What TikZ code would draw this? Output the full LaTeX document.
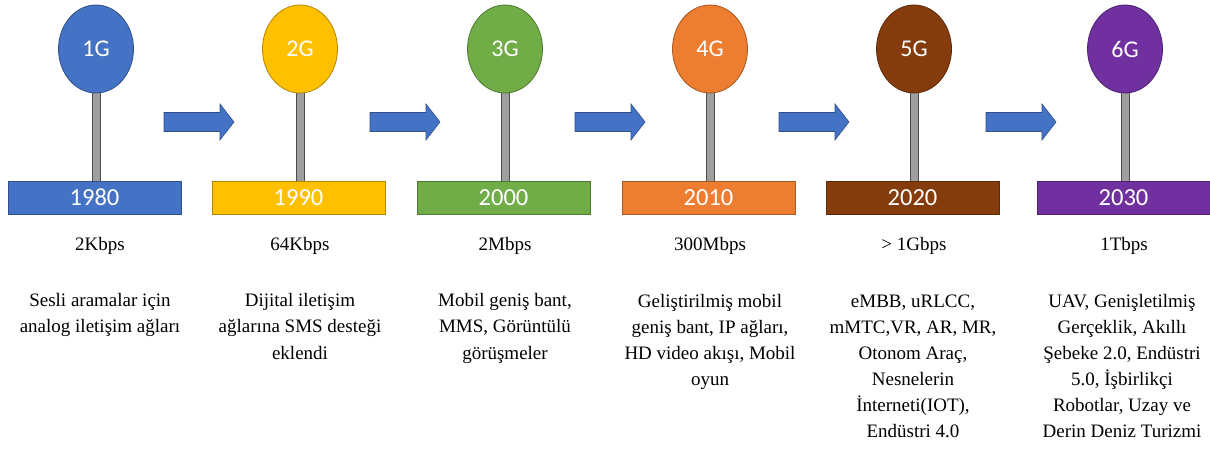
\documentclass[tikz,border=0pt]{standalone}
\usepackage{fontspec}
\usetikzlibrary{shapes.geometric}
\setmainfont{Liberation Serif}
\newfontfamily\calib{Carlito}
\newfontfamily\tnr{Liberation Serif}
\begin{document}
\begin{tikzpicture}[x=1pt,y=-1pt,
  gen/.style={ellipse,minimum width=75pt,minimum height=88pt,inner sep=0pt,draw=#1!70!black,fill=#1,line width=0.8pt,text=white,font=\calib\fontsize{24}{26}\selectfont},
  yearbox/.style={rectangle,minimum width=173pt,minimum height=33pt,inner sep=0pt,draw=#1!70!black,fill=#1,line width=0.8pt,text=white,font=\calib\fontsize{24.5}{27}\selectfont},
  speed/.style={anchor=base,font=\tnr\fontsize{19}{26}\selectfont},
  desc/.style={anchor=base,align=center,font=\tnr\fontsize{19}{26}\selectfont},
  stem/.style={fill=gray!75,draw=gray!60!black,line width=0.6pt},
  arr/.style={fill=c1,draw=c1!70!black,line width=0.6pt}]
\definecolor{c1}{HTML}{4472C4}
\definecolor{c2}{HTML}{FFC000}
\definecolor{c3}{HTML}{70AD47}
\definecolor{c4}{HTML}{ED7D31}
\definecolor{c5}{HTML}{843C0C}
\definecolor{c6}{HTML}{7030A0}
\useasboundingbox (0,0) rectangle (1210,454);
% stems
\foreach \cx in {96,300,505,710,914,1125}{
  \draw[stem] (\cx-4,92) rectangle (\cx+4,182);
}
\foreach \cx/\c/\g/\y [count=\i] in {96/c1/1G/1980,300/c2/2G/1990,505/c3/3G/2000,710/c4/4G/2010,914/c5/5G/2020,1125/c6/6G/2030}{
  \node[gen=\c] (g\i) at (\cx,49) {\g};
  \node[yearbox=\c] (y\i) at (\cx-1.5,197.5) {\y};
}
% arrows
\foreach \x in {164,370,575,779,986}{
  \draw[arr] (\x,112.5) -- (\x+56,112.5) -- (\x+56,104) -- (\x+70,122) -- (\x+56,140) -- (\x+56,131.5) -- (\x,131.5) -- cycle;
}
\node[speed] (s1) at (100,251) {2Kbps};
\node[speed] (s2) at (300,251) {64Kbps};
\node[speed] (s3) at (505,251) {2Mbps};
\node[speed] (s4) at (710,251) {300Mbps};
\node[speed] (s5) at (914,251) {> 1Gbps};
\node[speed] (s6) at (1124,251) {1Tbps};
\node[desc] (d1) at (100,333) {Sesli aramalar için\\analog iletişim ağları};
\node[desc] (d2) at (300,359) {Dijital iletişim\\ağlarına SMS desteği\\eklendi};
\node[desc] (d3) at (505,359) {Mobil geniş bant,\\MMS, Görüntülü\\görüşmeler};
\node[desc] (d4) at (710,385) {Geliştirilmiş mobil\\geniş bant, IP ağları,\\HD video akışı, Mobil\\oyun};
\node[desc] (d5) at (913,437) {eMBB, uRLCC,\\mMTC,VR, AR, MR,\\Otonom Araç,\\Nesnelerin\\İnterneti(IOT),\\Endüstri 4.0};
\node[desc] (d6) at (1122,437) {UAV, Genişletilmiş\\Gerçeklik, Akıllı\\Şebeke 2.0, Endüstri\\5.0, İşbirlikçi\\Robotlar, Uzay ve\\Derin Deniz Turizmi};
\end{tikzpicture}
\end{document}
